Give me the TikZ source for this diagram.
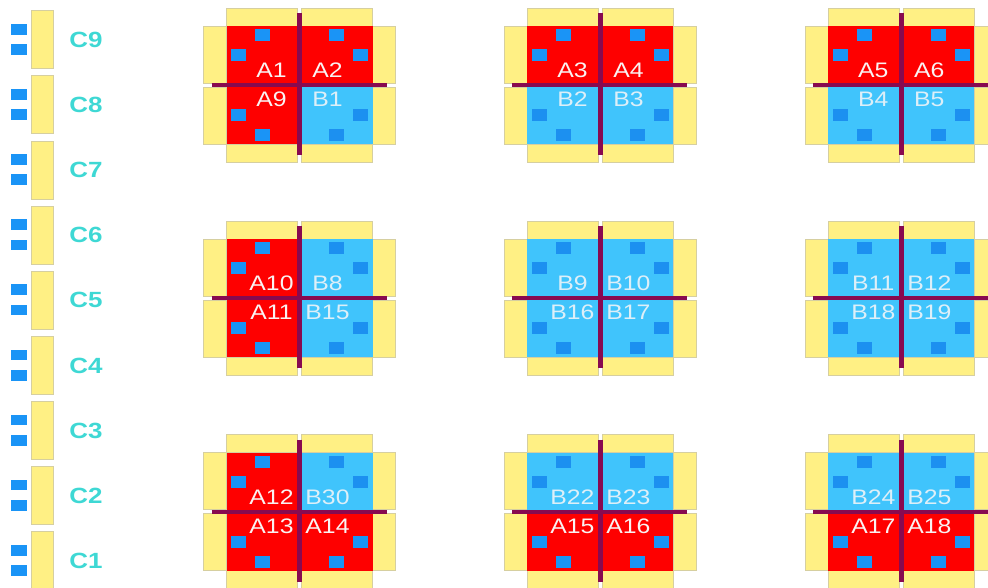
\documentclass[tikz,border=0pt]{standalone}
\usepackage{fontspec}
\setmainfont{Liberation Sans}
\definecolor{Afill}{HTML}{FE0000}
\definecolor{Achip}{HTML}{1A94F6}
\definecolor{Atext}{HTML}{FAF2F2}
\definecolor{Bfill}{HTML}{40C4FC}
\definecolor{Bchip}{HTML}{1C90F0}
\definecolor{Btext}{HTML}{DDEFF8}
\definecolor{padfill}{HTML}{FFF084}
\definecolor{padedge}{HTML}{D6CFA0}
\definecolor{barcol}{HTML}{880A50}
\definecolor{railcol}{HTML}{3ED8D4}
\tikzset{
  padbox/.style={fill=padfill, draw=padedge, line width=0.7pt},
  chipbox/.style={fill=#1},
  crossbar/.style={draw=barcol, line width=#1},
  celltext/.style={text=#1, font=\fontsize{21}{21}\selectfont, xscale=1.18, inner sep=0pt},
  railtext/.style={text=railcol, font=\fontsize{22}{22}\selectfont\bfseries, xscale=1.18, inner sep=0pt}
}
% one quarter of a group: #1,#2 signs, #3 A or B, #4 label
\newcommand{\quartercell}[4]{
  \draw[padbox] (#1*2,#2*59) rectangle (#1*73,#2*77);
  \draw[padbox] (#1*73,#2*2) rectangle (#1*96,#2*59);
  \fill[#3fill] (0,0) rectangle (#1*73,#2*59);
  \fill[chipbox=#3chip] (#1*37-7.5,#2*50-6) rectangle ++(15,12);
  \fill[chipbox=#3chip] (#1*61-7.5,#2*30-6) rectangle ++(15,12);
  \node[celltext=#3text] (#4) at (#1*28,#2*14.5) {#4};
}
\begin{document}
\begin{tikzpicture}[x=1pt, y=-1pt]
  \useasboundingbox (0,0) rectangle (988,588);
  \clip (0,0) rectangle (988,588);
  % left rail
  \foreach \n in {1,...,9} {
    \begin{scope}[shift={(0,{10.7+(9-\n)*65.1})}]
      \draw[padbox] (31,0) rectangle (53,58);
      \fill[chipbox=Achip] (11,13.3) rectangle ++(15.5,10.7);
      \fill[chipbox=Achip] (11,33.6) rectangle ++(15.5,10.7);
      \node[railtext] (C\n) at (86,29.3) {C\n};
    \end{scope}
  }
  % groups: centre, then the four quarters
  \foreach \cx/\cy/\ta/\la/\tb/\lb/\tc/\lc/\td/\ld in {
    299.5/85/A/A1/A/A2/A/A9/B/B1,
    600.4/85/A/A3/A/A4/B/B2/B/B3,
    901.3/85/A/A5/A/A6/B/B4/B/B5,
    299.5/298/A/A10/B/B8/A/A11/B/B15,
    600.4/298/B/B9/B/B10/B/B16/B/B17,
    901.3/298/B/B11/B/B12/B/B18/B/B19,
    299.5/511.5/A/A12/B/B30/A/A13/A/A14,
    600.4/511.5/B/B22/B/B23/A/A15/A/A16,
    901.3/511.5/B/B24/B/B25/A/A17/A/A18} {
    \begin{scope}[shift={(\cx,\cy)}]
      \quartercell{-1}{-1}{\ta}{\la}
      \quartercell{1}{-1}{\tb}{\lb}
      \quartercell{-1}{1}{\tc}{\lc}
      \quartercell{1}{1}{\td}{\ld}
      \draw[crossbar=5pt] (0,-72) -- (0,70);
      \draw[crossbar=4pt] (-88,0) -- (87,0);
    \end{scope}
  }
\end{tikzpicture}
\end{document}
